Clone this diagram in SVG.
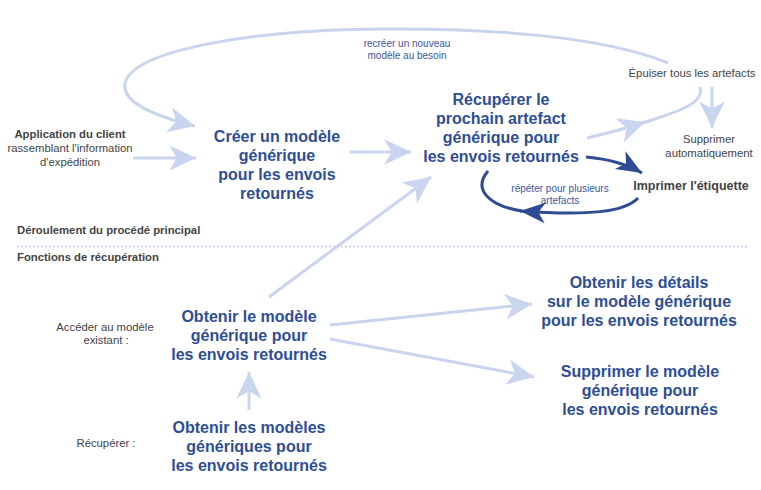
<svg xmlns="http://www.w3.org/2000/svg" width="761" height="490" viewBox="0 0 761 490">
<style>
text{font-family:"Liberation Sans",Arial,sans-serif;text-anchor:middle}
.big{font-size:16px;font-weight:bold;fill:#2e4e95}
.sm{font-size:11.3px;fill:#444}
.smb{font-size:11.3px;font-weight:bold;fill:#444}
.lbl{font-size:10px;fill:#3a5799}
.hdr{font-size:11.3px;font-weight:bold;fill:#444;text-anchor:start}
.lt{fill:none;stroke:#c9d5ef;stroke-width:3}
.dk{fill:none;stroke:#2e4b93;stroke-width:3}
</style>
<defs>
<marker id="al" markerUnits="userSpaceOnUse" markerWidth="30" markerHeight="30" viewBox="-26 -13 28 26" refX="0" refY="0" orient="auto">
<path d="M0,0 L-25,-12 L-18,0 L-25,12 Z" fill="#c9d5ef"/>
</marker>
<marker id="ad" markerUnits="userSpaceOnUse" markerWidth="30" markerHeight="30" viewBox="-24 -11 26 22" refX="0" refY="0" orient="auto">
<path d="M0,0 L-22,-9 L-16,0 L-22,9 Z" fill="#2e4b93"/>
</marker>
</defs>
<rect width="761" height="490" fill="#fff"/>
<g id="connectors">
<path class="lt" d="M668,63 C600,35 480,28 380,29 C250,30 140,50 126,80 C118,100 150,115 195,126" marker-end="url(#al)"/>
<path class="lt" d="M133,158 L196,158" marker-end="url(#al)"/>
<path class="lt" d="M350,152 L411,152" marker-end="url(#al)"/>
<path class="lt" d="M269,297 L431,177" marker-end="url(#al)"/>
<path class="lt" d="M587,138 Q618,131 645,122" marker-end="url(#al)"/>
<path class="lt" d="M643,123 C676,112 705,104 700,87"/>
<path class="lt" d="M712,87 L712,128" marker-end="url(#al)"/>
<path class="dk" d="M586,157 Q620,160 642,173" marker-end="url(#ad)"/>
<path class="dk" d="M638,198 C625,212 590,216 520,211" marker-end="url(#ad)"/>
<path class="dk" d="M522,211 C490,206 472,190 488,171"/>
<path class="lt" d="M249,410 L249,372" marker-end="url(#al)"/>
<path class="lt" d="M330,325 L532,304" marker-end="url(#al)"/>
<path class="lt" d="M330,339 L534,377" marker-end="url(#al)"/>
<text class="lbl" x="407" y="47">recréer un nouveau</text>
<text class="lbl" x="407" y="59">modèle au besoin</text>
<text class="lbl" x="560" y="192">répéter pour plusieurs</text>
<text class="lbl" x="560" y="204">artefacts</text>
</g>
<g id="client">
<text class="smb" x="70" y="138">Application du client</text>
<text class="sm" x="70" y="152">rassemblant l'information</text>
<text class="sm" x="70" y="166">d'expédition</text>
</g>
<g id="creer">
<text class="big" x="277" y="142">Créer un modèle</text>
<text class="big" x="277" y="161">générique</text>
<text class="big" x="277" y="180">pour les envois</text>
<text class="big" x="277" y="199">retournés</text>
</g>
<g id="recuperer">
<text class="big" x="501" y="105">Récupérer le</text>
<text class="big" x="501" y="124">prochain artefact</text>
<text class="big" x="501" y="143">générique pour</text>
<text class="big" x="501" y="162">les envois retournés</text>
</g>
<g id="epuiser">
<text class="sm" x="692" y="77">Épuiser tous les artefacts</text>
</g>
<g id="supprimer-auto">
<text class="sm" x="709" y="143">Supprimer</text>
<text class="sm" x="709" y="157">automatiquement</text>
</g>
<g id="imprimer">
<text class="smb" x="691" y="190" style="font-size:12.5px">Imprimer l'étiquette</text>
</g>
<g id="sections">
<text class="hdr" x="17" y="234">Déroulement du procédé principal</text>
<line x1="17" y1="246.5" x2="748" y2="246.5" stroke="#c9d5ef" stroke-width="2" stroke-dasharray="2,2"/>
<text class="hdr" x="17" y="261">Fonctions de récupération</text>
</g>
<g id="acceder">
<text class="sm" x="105" y="331">Accéder au modèle</text>
<text class="sm" x="106" y="344">existant :</text>
</g>
<g id="obtenir">
<text class="big" x="249" y="322">Obtenir le modèle</text>
<text class="big" x="249" y="341">générique pour</text>
<text class="big" x="249" y="360">les envois retournés</text>
</g>
<g id="recuperer-label">
<text class="sm" x="106" y="447">Récupérer :</text>
</g>
<g id="obtenir-modeles">
<text class="big" x="249" y="433">Obtenir les modèles</text>
<text class="big" x="249" y="452">génériques pour</text>
<text class="big" x="249" y="471">les envois retournés</text>
</g>
<g id="details">
<text class="big" x="639" y="288">Obtenir les détails</text>
<text class="big" x="639" y="307">sur le modèle générique</text>
<text class="big" x="639" y="326">pour les envois retournés</text>
</g>
<g id="supprimer-modele">
<text class="big" x="640" y="377">Supprimer le modèle</text>
<text class="big" x="640" y="396">générique pour</text>
<text class="big" x="640" y="415">les envois retournés</text>
</g>
</svg>
